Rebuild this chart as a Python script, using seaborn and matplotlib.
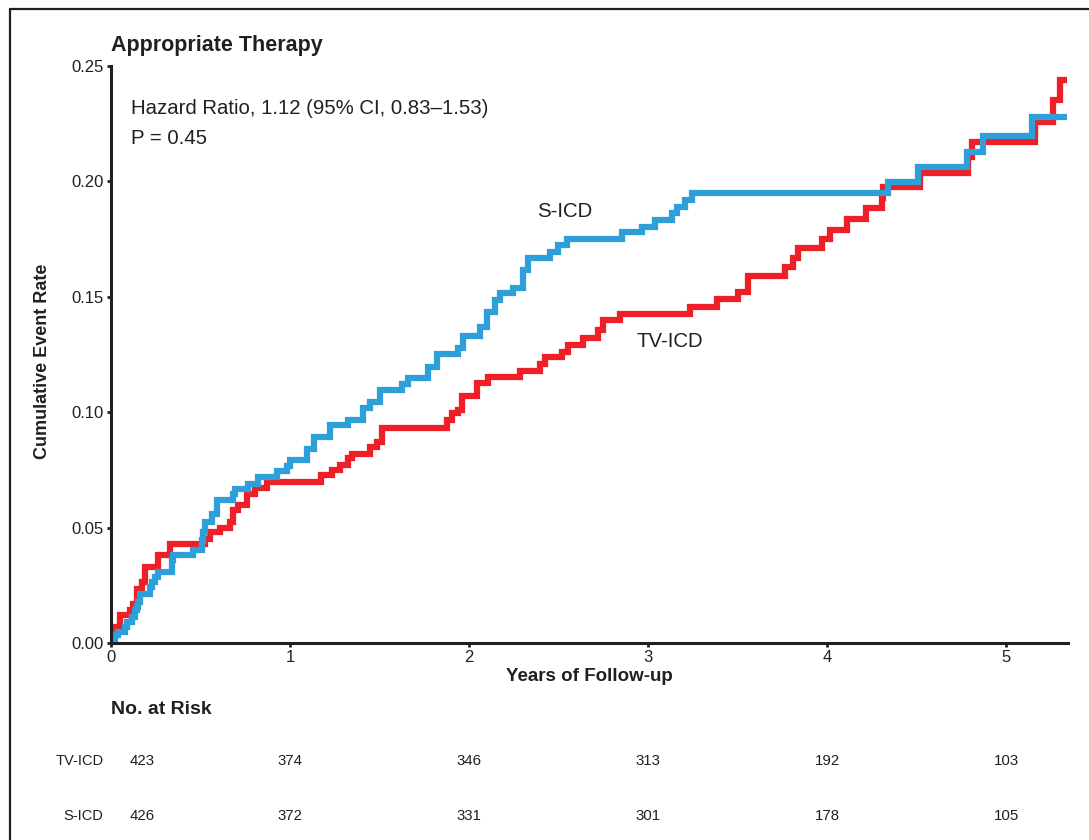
import numpy as np
import pandas as pd
import matplotlib
matplotlib.use("Agg")
import matplotlib.pyplot as plt
import seaborn as sns
from matplotlib.transforms import blended_transform_factory, offset_copy
from matplotlib.lines import Line2D

# ---------------- data ----------------
sicd_t = [0.000, 0.022, 0.041, 0.078, 0.087, 0.115, 0.134, 0.143, 0.153, 0.162,
          0.218, 0.227, 0.246, 0.265, 0.339, 0.348, 0.460, 0.507, 0.516, 0.525,
          0.562, 0.590, 0.683, 0.693, 0.767, 0.823, 0.926, 0.981, 1.000, 1.095,
          1.135, 1.223, 1.326, 1.410, 1.447, 1.503, 1.624, 1.661, 1.773, 1.820,
          1.940, 1.968, 2.061, 2.099, 2.145, 2.173, 2.248, 2.303, 2.331, 2.453,
          2.499, 2.546, 2.853, 2.965, 3.039, 3.132, 3.160, 3.207, 3.244, 4.343,
          4.510, 4.780, 4.873, 5.143, 5.340]
sicd_y = [0.0000, 0.0033, 0.0048, 0.0069, 0.0091, 0.0113, 0.0142, 0.0156, 0.0178, 0.0214,
          0.0243, 0.0264, 0.0286, 0.0308, 0.0358, 0.0380, 0.0401, 0.0445, 0.0480, 0.0524,
          0.0560, 0.0620, 0.0647, 0.0669, 0.0690, 0.0719, 0.0745, 0.0765, 0.0792, 0.0840,
          0.0894, 0.0944, 0.0967, 0.1017, 0.1046, 0.1096, 0.1122, 0.1147, 0.1197, 0.1252,
          0.1277, 0.1330, 0.1370, 0.1435, 0.1486, 0.1515, 0.1537, 0.1616, 0.1667, 0.1695,
          0.1724, 0.1749, 0.1780, 0.1804, 0.1833, 0.1862, 0.1890, 0.1920, 0.1948, 0.1999,
          0.2061, 0.2129, 0.2197, 0.2278, 0.2278]

tvicd_t = [0.000, 0.004, 0.013, 0.050, 0.106, 0.125, 0.143, 0.171, 0.190, 0.265,
           0.330, 0.525, 0.553, 0.609, 0.665, 0.680, 0.711, 0.758, 0.804, 0.870,
           1.172, 1.233, 1.279, 1.326, 1.345, 1.447, 1.484, 1.512, 1.875, 1.903,
           1.940, 1.959, 2.043, 2.108, 2.285, 2.397, 2.425, 2.518, 2.555, 2.639,
           2.720, 2.750, 2.844, 3.235, 3.384, 3.505, 3.560, 3.765, 3.810, 3.840,
           3.970, 4.017, 4.110, 4.220, 4.305, 4.315, 4.520, 4.790, 4.808, 5.162,
           5.264, 5.302, 5.340]
tvicd_y = [0.0000, 0.0045, 0.0069, 0.0120, 0.0142, 0.0170, 0.0235, 0.0264, 0.0330, 0.0380,
           0.0430, 0.0450, 0.0480, 0.0500, 0.0524, 0.0575, 0.0600, 0.0647, 0.0670, 0.0699,
           0.0728, 0.0750, 0.0770, 0.0800, 0.0820, 0.0850, 0.0872, 0.0930, 0.0966, 0.0995,
           0.1010, 0.1070, 0.1125, 0.1154, 0.1180, 0.1210, 0.1240, 0.1260, 0.1290, 0.1320,
           0.1356, 0.1400, 0.1425, 0.1454, 0.1489, 0.1522, 0.1590, 0.1628, 0.1667, 0.1710,
           0.1749, 0.1790, 0.1836, 0.1883, 0.1930, 0.1977, 0.2035, 0.2107, 0.2172, 0.2259,
           0.2353, 0.2439, 0.2439]

risk_years = [0, 1, 2, 3, 4, 5]
risk_tvicd = [423, 374, 346, 313, 192, 103]
risk_sicd = [426, 372, 331, 301, 178, 105]
x_ticks = [0, 1, 2, 3, 4, 5]
y_ticks = [0.00, 0.05, 0.10, 0.15, 0.20, 0.25]

RED = "#EE1F26"
BLUE = "#2E9FD9"
INK = "#231F20"

# ---------------- style ----------------
sns.set_theme(style="white")
plt.rcParams["font.family"] = ["Liberation Sans", "DejaVu Sans"]
plt.rcParams["text.color"] = INK

W, H = 1089, 840
fig = plt.figure(figsize=(W / 100, H / 100), dpi=100)
fig.patch.set_facecolor("white")

ax = fig.add_axes([111 / W, 1 - 643 / H, 957 / W, 577 / H])

df = pd.concat([
    pd.DataFrame({"t": tvicd_t, "y": tvicd_y, "grp": "TV-ICD"}),
    pd.DataFrame({"t": sicd_t, "y": sicd_y, "grp": "S-ICD"}),
], ignore_index=True)

sns.lineplot(data=df, x="t", y="y", hue="grp", hue_order=["TV-ICD", "S-ICD"],
             palette={"TV-ICD": RED, "S-ICD": BLUE}, estimator=None, sort=False,
             drawstyle="steps-post", linewidth=4.5, legend=False, ax=ax,
             solid_joinstyle="miter", solid_capstyle="butt")

ax.set_xlim(0, 5.346)
ax.set_ylim(0, 0.25)
ax.set_xticks(x_ticks)
ax.set_xticklabels([str(v) for v in x_ticks])
ax.set_yticks(y_ticks)
ax.set_yticklabels([f"{v:.2f}" for v in y_ticks])
sns.despine(ax=ax)
for s in ("left", "bottom"):
    ax.spines[s].set_linewidth(2.2)
    ax.spines[s].set_color(INK)
ax.tick_params(axis="both", direction="out", length=3, width=2, color=INK,
               labelsize=12, pad=2, bottom=True, left=True, labelcolor=INK)

ax.set_xlabel("Years of Follow-up", fontsize=13.5, fontweight="bold", color=INK)
ax.xaxis.set_label_coords(0.5, -0.043)
ax.set_ylabel("Cumulative Event Rate", fontsize=13, fontweight="bold", color=INK)
ax.yaxis.set_label_coords(-0.063, 0.489)

# annotations
ax.text(0.112, 0.2318, "Hazard Ratio, 1.12 (95% CI, 0.83\u20131.53)", fontsize=14.7,
        va="center", ha="left", color=INK)
ax.text(0.112, 0.2184, "P = 0.45", fontsize=14.7, va="center", ha="left", color=INK)
ax.text(2.536, 0.1869, "S-ICD", fontsize=14.7, va="center", ha="center", color=INK)
ax.text(3.123, 0.1305, "TV-ICD", fontsize=14.7, va="center", ha="center", color=INK)

fig.text(111 / W, 1 - 46 / H, "Appropriate Therapy", fontsize=15.5, fontweight="bold",
         va="center", ha="left", color=INK)

# risk table
tr = blended_transform_factory(ax.transData, fig.transFigure)
fig.text(111 / W, 1 - 709 / H, "No. at Risk", fontsize=14, fontweight="bold",
         va="center", ha="left", color=INK)
for label, counts, yp in (("TV-ICD", risk_tvicd, 761), ("S-ICD", risk_sicd, 816.5)):
    fig.text(103.5 / W, 1 - yp / H, label, fontsize=10.5, va="center", ha="right", color=INK)
    for i, (yr, n) in enumerate(zip(risk_years, counts)):
        if i == 0:
            ax.text(yr, 1 - yp / H, str(n), fontsize=10.8, va="center", ha="left",
                    color=INK, transform=offset_copy(tr, fig=fig, x=19, units="dots"))
        else:
            ax.text(yr, 1 - yp / H, str(n), fontsize=10.8, va="center", ha="center",
                    color=INK, transform=tr)

# outer frame (cropped panel border)
fx, fy = 10 / W, 1 - 8.5 / H
fig.add_artist(Line2D([fx, fx], [0, fy], transform=fig.transFigure, color=INK, lw=1.6))
fig.add_artist(Line2D([fx, 1], [fy, fy], transform=fig.transFigure, color=INK, lw=1.6))

fig.savefig("out.png", dpi=100, facecolor="white")
